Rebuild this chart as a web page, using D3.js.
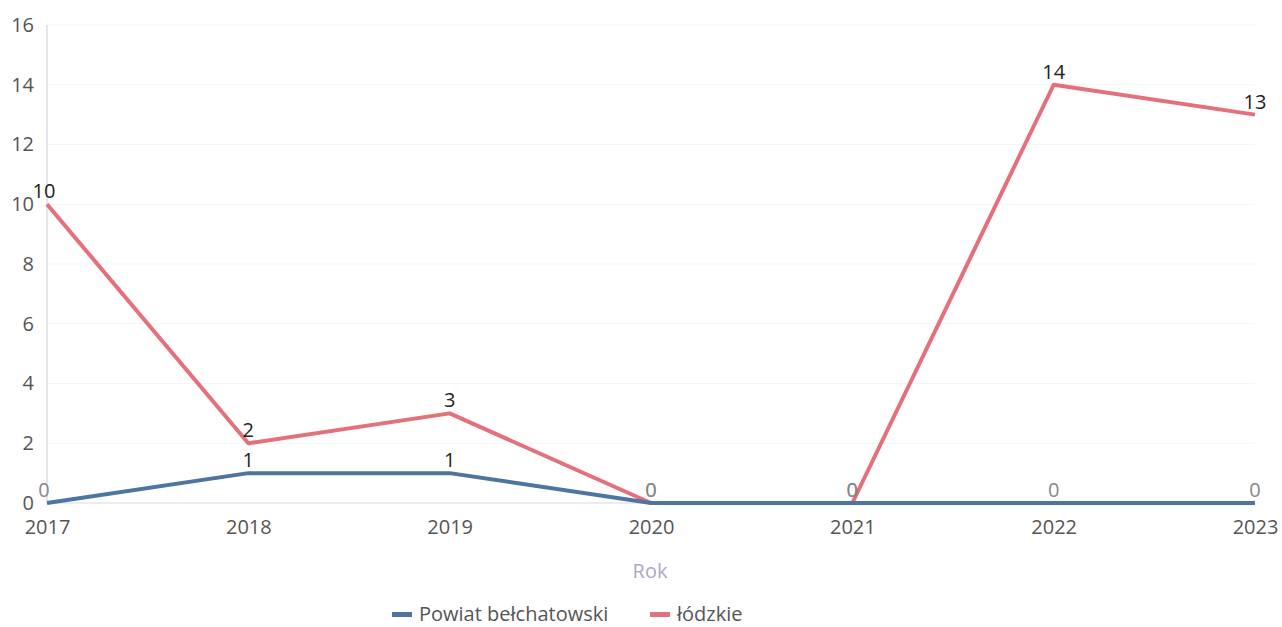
<!DOCTYPE html>
<html><head><meta charset="utf-8">
<script src="https://cdn.jsdelivr.net/npm/d3@7"></script>
<style>body{margin:0;background:#fff;font-family:"Open Sans",sans-serif;}</style>
</head><body><svg id="c" width="1282" height="627"></svg>
<script>
const years = ["2017","2018","2019","2020","2021","2022","2023"];
const powiat = [0,1,1,0,0,0,0];
const lodzkie = [10,2,3,0,0,14,13];
const seriesNames = ["Powiat bełchatowski","łódzkie"];
const yTicks = [0,2,4,6,8,10,12,14,16];

const svg = d3.select("#c");
const x = d3.scalePoint().domain(years).range([47,1255]);
const y = d3.scaleLinear().domain([0,16]).range([503,25]);
const colors = ["#4e74a0","#e4707a"];

// grid
svg.append("g").selectAll("line").data(yTicks).join("line")
  .attr("x1",47).attr("x2",1255).attr("y1",d=>y(d)).attr("y2",d=>y(d))
  .attr("stroke","#f5f5f8").attr("stroke-width",1);
svg.append("line").attr("x1",47).attr("x2",47).attr("y1",y(16)).attr("y2",y(0))
  .attr("stroke","#dcdce6").attr("stroke-width",1.5);
svg.append("line").attr("x1",47).attr("x2",1255).attr("y1",y(0)).attr("y2",y(0))
  .attr("stroke","#e6e6ec").attr("stroke-width",1.5);

// y axis labels
const yAxis = d3.axisLeft(y).tickValues(yTicks).tickSize(0).tickPadding(13);
const gy = svg.append("g").attr("transform","translate(47,0)").call(yAxis);
gy.select(".domain").remove();
gy.selectAll("text").attr("font-size",20).attr("fill","#555").attr("font-family","Open Sans");

// x axis labels
const xAxis = d3.axisBottom(x).tickSize(0).tickPadding(17);
const gx = svg.append("g").attr("transform",`translate(0,${y(0)})`).call(xAxis);
gx.select(".domain").remove();
gx.selectAll("text").attr("font-size",20).attr("fill","#555").attr("font-family","Open Sans");

svg.append("text").attr("x",650).attr("y",578).attr("text-anchor","middle")
  .attr("font-size",20).attr("fill","#a9a9c4").text("Rok");

const line = d3.line().x((d,i)=>x(years[i])).y(d=>y(d));
[lodzkie,powiat].forEach((s,k)=>{
  const ci = k===0?1:0;
  svg.append("path").datum(s).attr("d",line).attr("fill","none")
    .attr("stroke",colors[ci]).attr("stroke-width",4).attr("stroke-linejoin","round");
});

function labels(s){
  svg.append("g").selectAll("text").data(s).join("text")
    .attr("x",(d,i)=>x(years[i])-(i===0?3:0)).attr("y",d=>y(d)-6)
    .attr("text-anchor","middle").attr("font-size",20)
    .attr("fill",d=>d===0?"#888":"#222").text(d=>d);
}
labels(powiat);
labels(lodzkie);

// legend
const leg = [{n:seriesNames[0],c:colors[0],x:392},{n:seriesNames[1],c:colors[1],x:650}];
const lg = svg.append("g");
leg.forEach(l=>{
  lg.append("rect").attr("x",l.x).attr("y",612).attr("width",20).attr("height",5).attr("fill",l.c);
  lg.append("text").attr("x",l.x+27).attr("y",621).attr("font-size",20).attr("fill","#555").text(l.n);
});
</script></body></html>
